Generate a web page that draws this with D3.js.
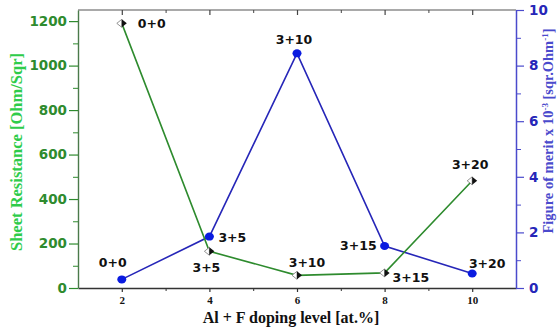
<!DOCTYPE html>
<html>
<head>
<meta charset="utf-8">
<script src="https://cdn.jsdelivr.net/npm/d3@7"></script>
<style>
  html, body { margin: 0; padding: 0; background: #fff; }
  svg { display: block; }
</style>
</head>
<body>
<svg id="chart" width="558" height="331"></svg>
<script>
// Doping level (at.%) for each sample
const dopingLevels = [2, 4, 6, 8, 10];
// Sample composition labels (Al + F)
const sampleLabels = ["0+0", "3+5", "3+10", "3+15", "3+20"];
// Sheet resistance, Ohm/Sqr
const sheetResistance = [1190, 165, 57, 68, 482];
// Figure of merit, x10^-3 sqr.Ohm^-1
const figureOfMerit = [0.31, 1.85, 8.44, 1.51, 0.52];

const xMajorTicks = [2, 4, 6, 8, 10];
const leftTicks = [0, 200, 400, 600, 800, 1000, 1200];
const rightTicks = [0, 2, 4, 6, 8, 10];

// label offsets relative to each marker: [dx, dy, anchor]
const resistLabelPlace = [[16, 5, "start"], [-3, 21, "middle"], [10, -8, "middle"], [8, 9, "start"], [-2, -12, "middle"]];
const meritLabelPlace = [[-9, -12, "middle"], [9, 5, "start"], [-3, -9, "middle"], [-8, 4, "end"], [15, -6, "middle"]];

const svg = d3.select("#chart");
const L = 78, R = 516, T = 10, B = 288;

const x = d3.scaleLinear().domain([1, 11]).range([L, R]);
const yL = d3.scaleLinear().domain([0, 1250]).range([B, T]);
const yR = d3.scaleLinear().domain([0, 10]).range([B, T]);

const green = "#2e8b2e", greenTitle = "#2ecc4a", blue = "#2626b8", blueAxis = "#4a4acc";

// frame: top line
svg.append("line").attr("x1", L).attr("x2", R).attr("y1", T).attr("y2", T)
  .attr("stroke", "#555").attr("stroke-width", 1.2);

// bottom axis
const gx = svg.append("g").attr("transform", `translate(0,${B})`)
  .call(d3.axisBottom(x).tickValues(xMajorTicks).tickSize(4).tickSizeOuter(0).tickPadding(4));
gx.select(".domain").attr("stroke", "#333").attr("stroke-width", 1.4);
gx.selectAll(".tick line").attr("stroke", "#333").attr("stroke-width", 1.2);
gx.selectAll(".tick text").attr("font-family", "Liberation Serif, serif")
  .attr("font-weight", "bold").attr("font-size", 11).attr("fill", "#111");
svg.append("g").attr("transform", `translate(0,${B})`)
  .call(d3.axisBottom(x).tickValues([3, 5, 7, 9]).tickSize(3).tickFormat(""))
  .call(g => g.select(".domain").remove())
  .selectAll(".tick line").attr("stroke", "#333");

// top axis: inward ticks, no labels
svg.append("g").attr("transform", `translate(0,${T})`)
  .call(d3.axisBottom(x).tickValues(xMajorTicks).tickSize(5).tickFormat(""))
  .call(g => g.select(".domain").remove())
  .selectAll(".tick line").attr("stroke", "#444").attr("stroke-width", 1.2);
svg.append("g").attr("transform", `translate(0,${T})`)
  .call(d3.axisBottom(x).tickValues([3, 5, 7, 9]).tickSize(3).tickFormat(""))
  .call(g => g.select(".domain").remove())
  .selectAll(".tick line").attr("stroke", "#444");

// left axis (sheet resistance)
const gl = svg.append("g").attr("transform", `translate(${L},0)`)
  .call(d3.axisLeft(yL).tickValues(leftTicks).tickFormat(d3.format("d"))
    .tickSize(9).tickSizeOuter(0).tickPadding(2));
gl.select(".domain").attr("stroke", "#4a7a4a").attr("stroke-width", 1.4);
gl.selectAll(".tick line").attr("stroke", green).attr("stroke-width", 1.2);
gl.selectAll(".tick text").attr("font-family", "DejaVu Sans, sans-serif")
  .attr("font-weight", "bold").attr("font-size", 13.5).attr("fill", green);
svg.append("g").attr("transform", `translate(${L},0)`)
  .call(d3.axisLeft(yL).tickValues([100, 300, 500, 700, 900, 1100]).tickSize(5).tickFormat(""))
  .call(g => g.select(".domain").remove())
  .selectAll(".tick line").attr("stroke", green);

// right axis (figure of merit)
const gr = svg.append("g").attr("transform", `translate(${R},0)`)
  .call(d3.axisRight(yR).tickValues(rightTicks).tickSize(8).tickSizeOuter(0).tickPadding(5));
gr.select(".domain").attr("stroke", blueAxis).attr("stroke-width", 1.5);
gr.selectAll(".tick line").attr("stroke", blueAxis).attr("stroke-width", 1.2);
gr.selectAll(".tick text").attr("font-family", "DejaVu Sans, sans-serif")
  .attr("font-weight", "bold").attr("font-size", 13.5).attr("fill", blue);
svg.append("g").attr("transform", `translate(${R},0)`)
  .call(d3.axisRight(yR).tickValues([1, 3, 5, 7, 9]).tickSize(5).tickFormat(""))
  .call(g => g.select(".domain").remove())
  .selectAll(".tick line").attr("stroke", blueAxis);

// axis titles
svg.append("text")
  .attr("transform", "translate(22,152) rotate(-90)")
  .attr("text-anchor", "middle")
  .attr("font-family", "Liberation Serif, serif").attr("font-weight", "bold")
  .attr("font-size", 16.5).attr("fill", greenTitle)
  .text("Sheet Resistance [Ohm/Sqr]");

const rt = svg.append("text")
  .attr("transform", "translate(553,131) rotate(-90)")
  .attr("text-anchor", "middle")
  .attr("font-family", "Liberation Serif, serif").attr("font-weight", "bold")
  .attr("font-size", 14.5).attr("fill", blueAxis);
rt.append("tspan").text("Figure of merit x 10");
rt.append("tspan").attr("dy", -5).attr("font-size", 9).text("-3");
rt.append("tspan").attr("dy", 5).text(" [sqr.Ohm");
rt.append("tspan").attr("dy", -5).attr("font-size", 9).text("-1");
rt.append("tspan").attr("dy", 5).text("]");

svg.append("text")
  .attr("x", 291).attr("y", 323)
  .attr("text-anchor", "middle")
  .attr("font-family", "Liberation Serif, serif").attr("font-weight", "bold")
  .attr("font-size", 16).attr("fill", "#111")
  .text("Al + F doping level [at.%]");

// series lines
const lineR = d3.line().x(d => x(d[0])).y(d => yL(d[1]));
const lineM = d3.line().x(d => x(d[0])).y(d => yR(d[1]));
const resistPts = dopingLevels.map((d, i) => [d, sheetResistance[i]]);
const meritPts = dopingLevels.map((d, i) => [d, figureOfMerit[i]]);

svg.append("path").datum(meritPts).attr("d", lineM)
  .attr("fill", "none").attr("stroke", blue).attr("stroke-width", 1.6);
svg.append("path").datum(resistPts).attr("d", lineR)
  .attr("fill", "none").attr("stroke", green).attr("stroke-width", 1.6);

// sheet resistance markers: half-open diamond with a dark arrowhead
const rm = svg.append("g").selectAll("g").data(resistPts).join("g")
  .attr("transform", d => `translate(${x(d[0])},${yL(d[1])})`);
rm.append("path").attr("d", "M-5,0 L0,-4 L0,4 Z")
  .attr("fill", "#fff").attr("stroke", "#777").attr("stroke-width", 0.8);
rm.append("path").attr("d", "M0,-4 L5,0 L0,4 Z").attr("fill", "#111");

// figure-of-merit markers
svg.append("g").selectAll("ellipse").data(meritPts).join("ellipse")
  .attr("cx", d => x(d[0])).attr("cy", d => yR(d[1]))
  .attr("rx", 4.5).attr("ry", 4).attr("fill", "#0a1be0");

// point labels
const labelFont = "DejaVu Sans, sans-serif";
svg.append("g").selectAll("text").data(resistPts).join("text")
  .attr("x", (d, i) => x(d[0]) + resistLabelPlace[i][0])
  .attr("y", (d, i) => yL(d[1]) + resistLabelPlace[i][1])
  .attr("text-anchor", (d, i) => resistLabelPlace[i][2])
  .attr("font-family", labelFont).attr("font-weight", "bold").attr("font-size", 12.5)
  .attr("fill", "#111")
  .text((d, i) => sampleLabels[i]);
svg.append("g").selectAll("text").data(meritPts).join("text")
  .attr("x", (d, i) => x(d[0]) + meritLabelPlace[i][0])
  .attr("y", (d, i) => yR(d[1]) + meritLabelPlace[i][1])
  .attr("text-anchor", (d, i) => meritLabelPlace[i][2])
  .attr("font-family", labelFont).attr("font-weight", "bold").attr("font-size", 12.5)
  .attr("fill", "#111")
  .text((d, i) => sampleLabels[i]);
</script>
</body>
</html>
